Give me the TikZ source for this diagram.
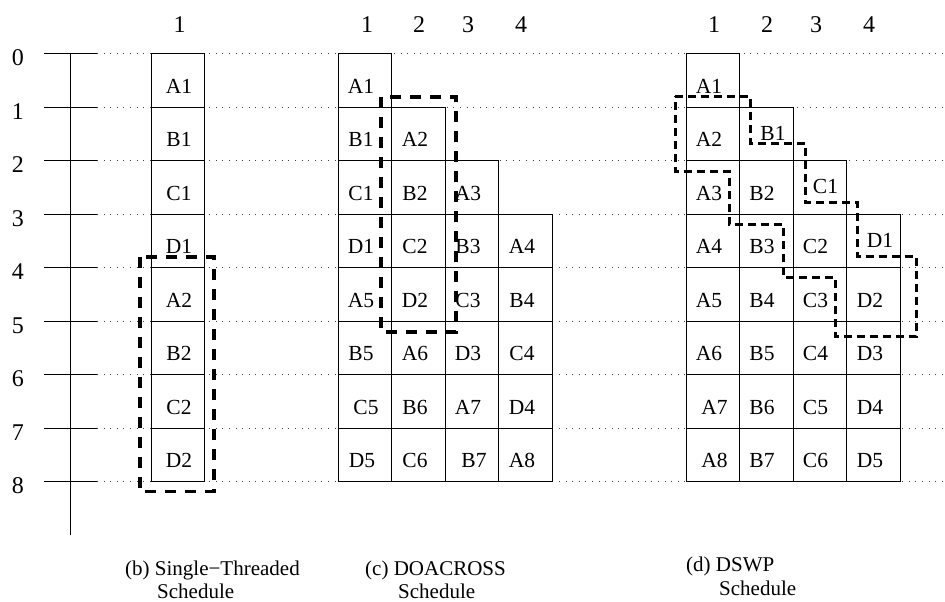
\documentclass[tikz,border=0pt]{standalone}
\usepackage{fontspec}
\setmainfont{Liberation Serif}
\newcommand\mycell[6][39.5]{%
  \node[cellbox] (#2) at (#3,{53.5+53.5*#4}) {};
  \node[celltext] (#2t) at (#5,{53.5+53.5*#4+#1}) {#6};
}
\begin{document}
\begin{tikzpicture}[x=1pt,y=-1pt,
  cellbox/.style={draw, line width=0.9pt, fill=white, minimum width=53.5pt, minimum height=53.5pt, inner sep=0pt, outer sep=0pt, anchor=north west},
  celltext/.style={anchor=base, inner sep=0pt, font=\fontsize{21.5}{25}\selectfont},
  bigtext/.style={anchor=base, inner sep=0pt, font=\fontsize{24}{28}\selectfont},
  captext/.style={anchor=base west, inner sep=0pt, font=\fontsize{21}{25}\selectfont},
  gridline/.style={line width=0.8pt, black!75, dash pattern=on 0.9pt off 5.7pt},
  tickline/.style={line width=0.9pt},
  bigdash/.style={line width=3.2pt, dash pattern=on 11pt off 9pt},
  smalldash/.style={line width=3pt, dash pattern=on 8pt off 5pt}]
\useasboundingbox (0,0) rectangle (945,602);
% axis
\draw[tickline] (70,53.5) -- (70,535);
\foreach \k in {0,...,8}{
  \draw[tickline] (44,{53.5+53.5*\k}) -- (97,{53.5+53.5*\k});
  \draw[gridline] (97,{53.5+53.5*\k}) -- (945,{53.5+53.5*\k});
  \node[bigtext] (r\k) at (18,{53.5+53.5*\k+12}) {\k};
}
% headers
\node[bigtext] (h1) at (179.5,33) {1};
\node[bigtext] (hc1) at (367,33) {1};
\node[bigtext] (hc2) at (419,33) {2};
\node[bigtext] (hc3) at (468,33) {3};
\node[bigtext] (hc4) at (521,33) {4};
\node[bigtext] (hd1) at (714,33) {1};
\node[bigtext] (hd2) at (767,33) {2};
\node[bigtext] (hd3) at (816,33) {3};
\node[bigtext] (hd4) at (869,33) {4};
% single-threaded
\mycell{sA1}{151.3}{0}{179}{A1}
\mycell{sB1}{151.3}{1}{179}{B1}
\mycell{sC1}{151.3}{2}{179}{C1}
\mycell{sD1}{151.3}{3}{179}{D1}
\mycell{sA2}{151.3}{4}{179}{A2}
\mycell{sB2}{151.3}{5}{179}{B2}
\mycell{sC2}{151.3}{6}{179}{C2}
\mycell{sD2}{151.3}{7}{179}{D2}
% DOACROSS
\mycell{cA1}{338.3}{0}{361}{A1}
\mycell{cB1}{338.3}{1}{361}{B1}
\mycell{cC1}{338.3}{2}{361}{C1}
\mycell{cD1}{338.3}{3}{361}{D1}
\mycell{cA5}{338.3}{4}{361}{A5}
\mycell{cB5}{338.3}{5}{361}{B5}
\mycell{cC5}{338.3}{6}{366}{C5}
\mycell{cD5}{338.3}{7}{362}{D5}
\mycell{cA2}{391.8}{1}{415}{A2}
\mycell{cB2}{391.8}{2}{415}{B2}
\mycell{cC2}{391.8}{3}{415}{C2}
\mycell{cD2}{391.8}{4}{415}{D2}
\mycell{cA6}{391.8}{5}{415}{A6}
\mycell{cB6}{391.8}{6}{415}{B6}
\mycell{cC6}{391.8}{7}{415}{C6}
\mycell{cA3}{445.3}{2}{468}{A3}
\mycell{cB3}{445.3}{3}{468}{B3}
\mycell{cC3}{445.3}{4}{468}{C3}
\mycell{cD3}{445.3}{5}{468}{D3}
\mycell{cA7}{445.3}{6}{468}{A7}
\mycell{cB7}{445.3}{7}{474}{B7}
\mycell{cA4}{498.8}{3}{522}{A4}
\mycell{cB4}{498.8}{4}{522}{B4}
\mycell{cC4}{498.8}{5}{522}{C4}
\mycell{cD4}{498.8}{6}{522}{D4}
\mycell{cA8}{498.8}{7}{522}{A8}
% DSWP
\mycell{dA1}{686}{0}{709}{A1}
\mycell{dA2}{686}{1}{709}{A2}
\mycell{dA3}{686}{2}{709}{A3}
\mycell{dA4}{686}{3}{709}{A4}
\mycell{dA5}{686}{4}{709}{A5}
\mycell{dA6}{686}{5}{709}{A6}
\mycell{dA7}{686}{6}{714.5}{A7}
\mycell{dA8}{686}{7}{714.5}{A8}
\mycell[33]{dB1}{739.5}{1}{773}{B1}
\mycell{dB2}{739.5}{2}{762}{B2}
\mycell{dB3}{739.5}{3}{762}{B3}
\mycell{dB4}{739.5}{4}{762}{B4}
\mycell{dB5}{739.5}{5}{762}{B5}
\mycell{dB6}{739.5}{6}{762}{B6}
\mycell{dB7}{739.5}{7}{762}{B7}
\mycell[33]{dC1}{793}{2}{825.5}{C1}
\mycell{dC2}{793}{3}{815.5}{C2}
\mycell{dC3}{793}{4}{815.5}{C3}
\mycell{dC4}{793}{5}{815.5}{C4}
\mycell{dC5}{793}{6}{815.5}{C5}
\mycell{dC6}{793}{7}{815.5}{C6}
\mycell[33]{dD1}{846.5}{3}{880}{D1}
\mycell{dD2}{846.5}{4}{870}{D2}
\mycell{dD3}{846.5}{5}{870}{D3}
\mycell{dD4}{846.5}{6}{870}{D4}
\mycell{dD5}{846.5}{7}{870}{D5}
% dashed groupings
\draw[bigdash] (140,257) rectangle (214,491.7);
\draw[bigdash] (381,97) rectangle (456,332);
\draw[smalldash] (675,96) -- (750,96) -- (750,143) -- (805,143) -- (805,202)
  -- (857,202) -- (857,256.5) -- (916,256.5) -- (916,336.5) -- (835,336.5)
  -- (835,277.5) -- (783,277.5) -- (783,224) -- (729,224) -- (729,171.5)
  -- (675,171.5) -- cycle;
% captions
\node[captext] (capb) at (125,575) {(b) Single\char"2212 Threaded};
\node[captext] (capb2) at (157,598) {Schedule};
\node[captext] (capc) at (365,575) {(c) DOACROSS};
\node[captext] (capc2) at (398,598) {Schedule};
\node[captext] (capd) at (686,571) {(d) DSWP};
\node[captext] (capd2) at (719,595) {Schedule};
\end{tikzpicture}
\end{document}
